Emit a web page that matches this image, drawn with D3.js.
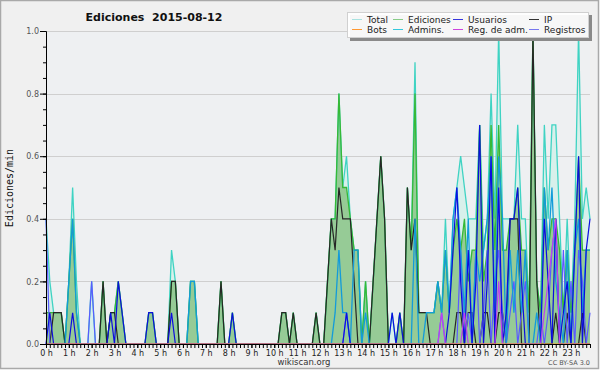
<!DOCTYPE html>
<html lang="es">
<head>
<meta charset="UTF-8">
<title>Ediciones 2015-08-12</title>
<script src="https://cdnjs.cloudflare.com/ajax/libs/d3/7.8.5/d3.min.js"></script>
<style>
  body { margin: 0; background: #fff; }
  svg text { font-family: "DejaVu Sans", sans-serif; }
</style>
</head>
<body>
<div id="chart"></div>
<script>
// acciones por franja de 10 minutos (144 franjas, 0 h - 23 h 50)
var total = [
  4,2,1,1,1,0, 2,5,2,0,0,0, 2,0,0,2,0,1, 1,2,1,0,0,0, 0,0,0,1,1,0, 0,0,0,3,2,0,
  0,0,2,2,0,0, 0,0,0,0,2,0, 0,1,0,0,0,0, 0,0,0,0,0,0, 0,0,1,1,0,1, 0,0,0,0,0,1,
  0,0,2,4,4,8, 5,6,4,3,3,0, 2,0,2,4,6,4, 0,1,0,1,0,5, 3,9,1,1,1,1, 1,2,1,4,1,4,
  5,6,5,4,4,4, 7,3,4,8,4,10, 4,4,4,4,7,4, 4,1,10,2,1,7, 4,7,7,4,1,4, 1,4,10,4,5,4
];
var ediciones = [
  1,1,1,1,1,0, 2,4,1,0,0,0, 0,0,0,2,0,1, 1,2,1,0,0,0, 0,0,0,1,1,0, 0,0,0,2,2,0,
  0,0,2,2,0,0, 0,0,0,0,2,0, 0,1,0,0,0,0, 0,0,0,0,0,0, 0,0,1,1,0,1, 0,0,0,0,0,1,
  0,0,2,4,4,8, 5,5,4,3,3,0, 2,0,2,4,6,4, 0,0,0,1,0,5, 3,8,1,1,1,1, 1,2,1,3,1,3,
  4,3,4,2,3,3, 7,2,3,7,3,7, 3,3,4,4,5,3, 3,1,10,2,1,5, 3,4,4,3,1,3, 1,3,6,3,3,3
];
var usuarios = [
  0,1,0,0,0,0, 0,1,0,0,0,0, 0,0,0,0,0,1, 0,2,1,0,0,0, 0,0,0,1,1,0, 0,0,0,1,0,0,
  0,0,0,0,0,0, 0,0,0,0,0,0, 0,1,0,0,0,0, 0,0,0,0,0,0, 0,0,0,0,0,0, 0,0,0,0,0,0,
  0,0,0,0,0,0, 0,1,0,0,0,0, 0,0,0,0,0,0, 0,1,0,1,0,0, 0,0,0,0,0,0, 0,0,0,0,1,3,
  5,2,0,3,0,2, 7,0,2,6,0,5, 0,1,4,4,5,2, 0,0,0,0,0,4, 2,0,4,0,1,2, 0,3,6,0,3,4
];
var ip = [
  0,0,1,1,1,0, 0,0,0,0,0,0, 0,0,0,2,0,1, 1,0,0,0,0,0, 0,0,0,0,0,0, 0,0,0,2,2,0,
  0,0,0,0,0,0, 0,0,0,0,2,0, 0,0,0,0,0,0, 0,0,0,0,0,0, 0,0,1,1,0,1, 0,0,0,0,0,1,
  0,0,2,4,3,5, 4,4,4,2,0,0, 0,0,2,4,6,4, 0,0,0,0,0,5, 3,4,1,1,1,0, 0,0,0,0,0,0,
  1,1,0,1,1,0, 0,1,1,0,0,1, 1,0,4,4,4,0, 0,0,10,2,0,0, 0,0,1,0,0,1, 0,0,0,1,0,0
];
var bots = [
  0,0,0,0,0,0, 0,0,0,0,0,0, 0,0,0,0,0,0, 0,0,0,0,0,0, 0,0,0,0,0,0, 0,0,0,0,0,0,
  0,0,0,0,0,0, 0,0,0,0,0,0, 0,0,0,0,0,0, 0,0,0,0,0,0, 0,0,0,0,0,0, 0,0,0,0,0,0,
  0,0,0,0,0,0, 0,0,0,0,0,0, 0,0,0,0,0,0, 0,0,0,0,0,0, 0,0,0,0,0,0, 0,0,0,0,0,0,
  0,0,0,0,0,0, 0,0,0,0,0,0, 0,0,0,0,0,0, 0,0,0,0,0,0, 0,0,0,0,0,0, 0,0,0,0,0,0
];
var admins = [
  0,0,0,0,0,0, 2,4,1,0,0,0, 0,0,0,0,0,0, 0,0,0,0,0,0, 0,0,0,0,0,0, 0,0,0,0,0,0,
  0,0,2,2,0,0, 0,0,0,0,0,0, 0,0,0,0,0,0, 0,0,0,0,0,0, 0,0,0,0,0,0, 0,0,0,0,0,0,
  0,0,0,0,1,3, 1,1,0,3,3,0, 1,0,0,0,0,0, 0,0,0,0,0,0, 0,4,0,0,1,1, 1,2,1,3,1,4,
  5,3,1,4,0,3, 2,3,4,6,1,6, 4,0,3,1,3,1, 3,0,0,1,0,5, 3,5,2,1,0,3, 0,3,4,1,3,3
];
var regAdm = [
  0,0,0,0,0,0, 0,0,0,0,0,0, 0,0,0,0,0,0, 0,0,0,0,0,0, 0,0,0,0,0,0, 0,0,0,0,0,0,
  0,0,0,0,0,0, 0,0,0,0,0,0, 0,0,0,0,0,0, 0,0,0,0,0,0, 0,0,0,0,0,0, 0,0,0,0,0,0,
  0,0,0,0,0,0, 0,0,0,0,0,0, 0,0,0,0,0,0, 0,0,0,0,0,0, 0,0,0,0,0,0, 0,0,1,0,0,0,
  0,0,1,0,0,0, 0,0,0,0,0,2, 0,0,0,0,0,0, 0,0,0,0,0,1, 2,3,4,0,0,0, 0,0,0,0,0,0
];
var registros = [
  4,0,0,0,0,0, 0,0,0,0,0,0, 2,0,0,0,0,0, 0,0,0,0,0,0, 0,0,0,0,0,0, 0,0,0,0,0,0,
  0,0,0,0,0,0, 0,0,0,0,0,0, 0,0,0,0,0,0, 0,0,0,0,0,0, 0,0,0,0,0,0, 0,0,0,0,0,0,
  0,0,0,0,0,0, 0,1,0,0,0,0, 0,0,0,0,0,0, 0,0,0,0,0,0, 0,0,0,0,0,0, 0,0,1,0,0,0,
  0,3,0,1,0,3, 0,1,3,0,2,3, 1,0,1,2,0,1, 2,0,0,0,1,0, 1,3,4,0,3,0, 2,0,3,2,0,1
];

var hourLabels = ["0 h","1 h","2 h","3 h","4 h","5 h","6 h","7 h","8 h","9 h","10 h","11 h",
  "12 h","13 h","14 h","15 h","16 h","17 h","18 h","19 h","20 h","21 h","22 h","23 h"];
var yTicks = [0, 0.2, 0.4, 0.6, 0.8, 1.0];

var W = 600, H = 370;
var slots = total.length;

var svg = d3.select("#chart").append("svg")
  .attr("width", W).attr("height", H);

// fondo y marco
svg.append("rect").attr("x", 0.5).attr("y", 0.5).attr("width", W - 2).attr("height", H - 2)
  .attr("fill", "#f0f0f0").attr("stroke", "#a9a9a9").attr("stroke-width", 1.5);

var x = d3.scaleLinear().domain([0, slots - 1]).range([46, 590]);
var y = d3.scaleLinear().domain([0, 1]).range([344, 31]);

svg.append("rect").attr("x", x(0)).attr("y", y(1))
  .attr("width", x(slots - 1) - x(0)).attr("height", y(0) - y(1))
  .attr("fill", "#eef0f2");

// rejilla
svg.append("g").selectAll("line")
  .data(yTicks.slice(1)).enter().append("line")
  .attr("x1", x(0)).attr("x2", x(slots - 1))
  .attr("y1", function (d) { return Math.round(y(d)) + 0.5; })
  .attr("y2", function (d) { return Math.round(y(d)) + 0.5; })
  .attr("stroke", "#cfcfcf").attr("stroke-width", 1);

var area = d3.area()
  .x(function (d, i) { return x(i); })
  .y0(y(0))
  .y1(function (d) { return y(d / 10); });
var line = d3.line()
  .x(function (d, i) { return x(i); })
  .y(function (d) { return y(d / 10); });

var plot = svg.append("g");
plot.append("path").datum(total).attr("d", area).attr("fill", "#d8f0eb");
plot.append("path").datum(ediciones).attr("d", area).attr("fill", "#96cb96");

var lines = [
  { data: total, color: "#3fd3c3", w: 1.3 },
  { data: ediciones, color: "#36b936", w: 1.3 },
  { data: ip, color: "#262626", w: 1.2 },
  { data: registros, color: "#5a5aff", w: 1.2 },
  { data: admins, color: "#139bda", w: 1.3 },
  { data: usuarios, color: "#0c0ce0", w: 1.2 },
  { data: regAdm, color: "#c040f0", w: 1.2 },
  { data: bots, color: "#ff9922", w: 1.2 }
];
lines.forEach(function (s) {
  plot.append("path").datum(s.data).attr("d", line)
    .attr("fill", "none").attr("stroke", s.color)
    .attr("stroke-width", s.w).attr("stroke-linejoin", "miter");
});

// eje y
svg.append("g").attr("transform", "translate(46,0)")
  .call(d3.axisLeft(y).tickValues(d3.range(0, 1.001, 0.05)).tickSize(3).tickSizeOuter(0).tickFormat(""));
var yMajor = svg.append("g").attr("transform", "translate(46,0)")
  .call(d3.axisLeft(y).tickValues(yTicks).tickSize(6).tickSizeOuter(0).tickPadding(1)
    .tickFormat(d3.format(".1f")));
yMajor.selectAll("text").attr("font-family", "DejaVu Sans").attr("font-size", 8)
  .attr("fill", "#555").attr("dy", "0.34em");

// eje x
svg.append("g").attr("transform", "translate(0,344)")
  .call(d3.axisBottom(x).tickValues(d3.range(slots)).tickSize(4).tickSizeOuter(0).tickFormat(""));
var xLab = svg.append("g").attr("transform", "translate(0,344)")
  .call(d3.axisBottom(x).tickValues(d3.range(0, slots, 6)).tickSize(4).tickSizeOuter(0).tickPadding(2)
    .tickFormat(function (d, i) { return hourLabels[i]; }));
xLab.selectAll("text").attr("font-family", "Liberation Sans").attr("font-size", 8).attr("fill", "#222");
svg.selectAll(".domain").attr("stroke", "#000");

// textos
svg.append("text").attr("x", 154).attr("y", 21).attr("text-anchor", "middle")
  .attr("font-size", 11).attr("font-weight", "bold").attr("fill", "#111")
  .style("white-space", "pre").text("Ediciones  2015-08-12");

svg.append("text").attr("transform", "translate(13,188) rotate(-90)")
  .attr("text-anchor", "middle").attr("font-size", 10)
  .style("font-family", "DejaVu Sans Mono").attr("fill", "#111")
  .text("Ediciones/min");

svg.append("text").attr("x", 304).attr("y", 365).attr("text-anchor", "middle")
  .attr("font-size", 8.5).attr("fill", "#333").text("wikiscan.org");
svg.append("text").attr("x", 590).attr("y", 365).attr("text-anchor", "end")
  .attr("font-size", 6.5).attr("fill", "#555").text("CC BY-SA 3.0");

// leyenda
var legendItems = [
  { name: "Total", color: "#a8e2e0", col: 0, row: 0 },
  { name: "Ediciones", color: "#88cc88", col: 1, row: 0 },
  { name: "Usuarios", color: "#3636dd", col: 2, row: 0 },
  { name: "IP", color: "#333333", col: 3, row: 0 },
  { name: "Bots", color: "#ff9933", col: 0, row: 1 },
  { name: "Admins.", color: "#33c8dc", col: 1, row: 1 },
  { name: "Reg. de adm.", color: "#cc44dd", col: 2, row: 1 },
  { name: "Registros", color: "#7777ee", col: 3, row: 1 }
];
var colX = [352, 393, 453, 529];
var leg = svg.append("g");
leg.append("rect").attr("x", 350).attr("y", 15).attr("width", 242).attr("height", 26).attr("fill", "#8a8a8a");
leg.append("rect").attr("x", 347.5).attr("y", 12.5).attr("width", 241).attr("height", 25)
  .attr("fill", "#fff").attr("fill-opacity", 0.93).attr("stroke", "#d0d0d0");
var li = leg.selectAll("g.item").data(legendItems).enter().append("g").attr("class", "item")
  .attr("transform", function (d) { return "translate(" + colX[d.col] + "," + (19 + d.row * 10) + ")"; });
li.append("line").attr("x1", 0).attr("x2", 10).attr("y1", 0.5).attr("y2", 0.5)
  .attr("stroke", function (d) { return d.color; }).attr("stroke-width", 1);
li.append("text").attr("x", 15).attr("y", 3.5).attr("font-size", 9).attr("fill", "#222")
  .text(function (d) { return d.name; });
</script>
</body>
</html>
